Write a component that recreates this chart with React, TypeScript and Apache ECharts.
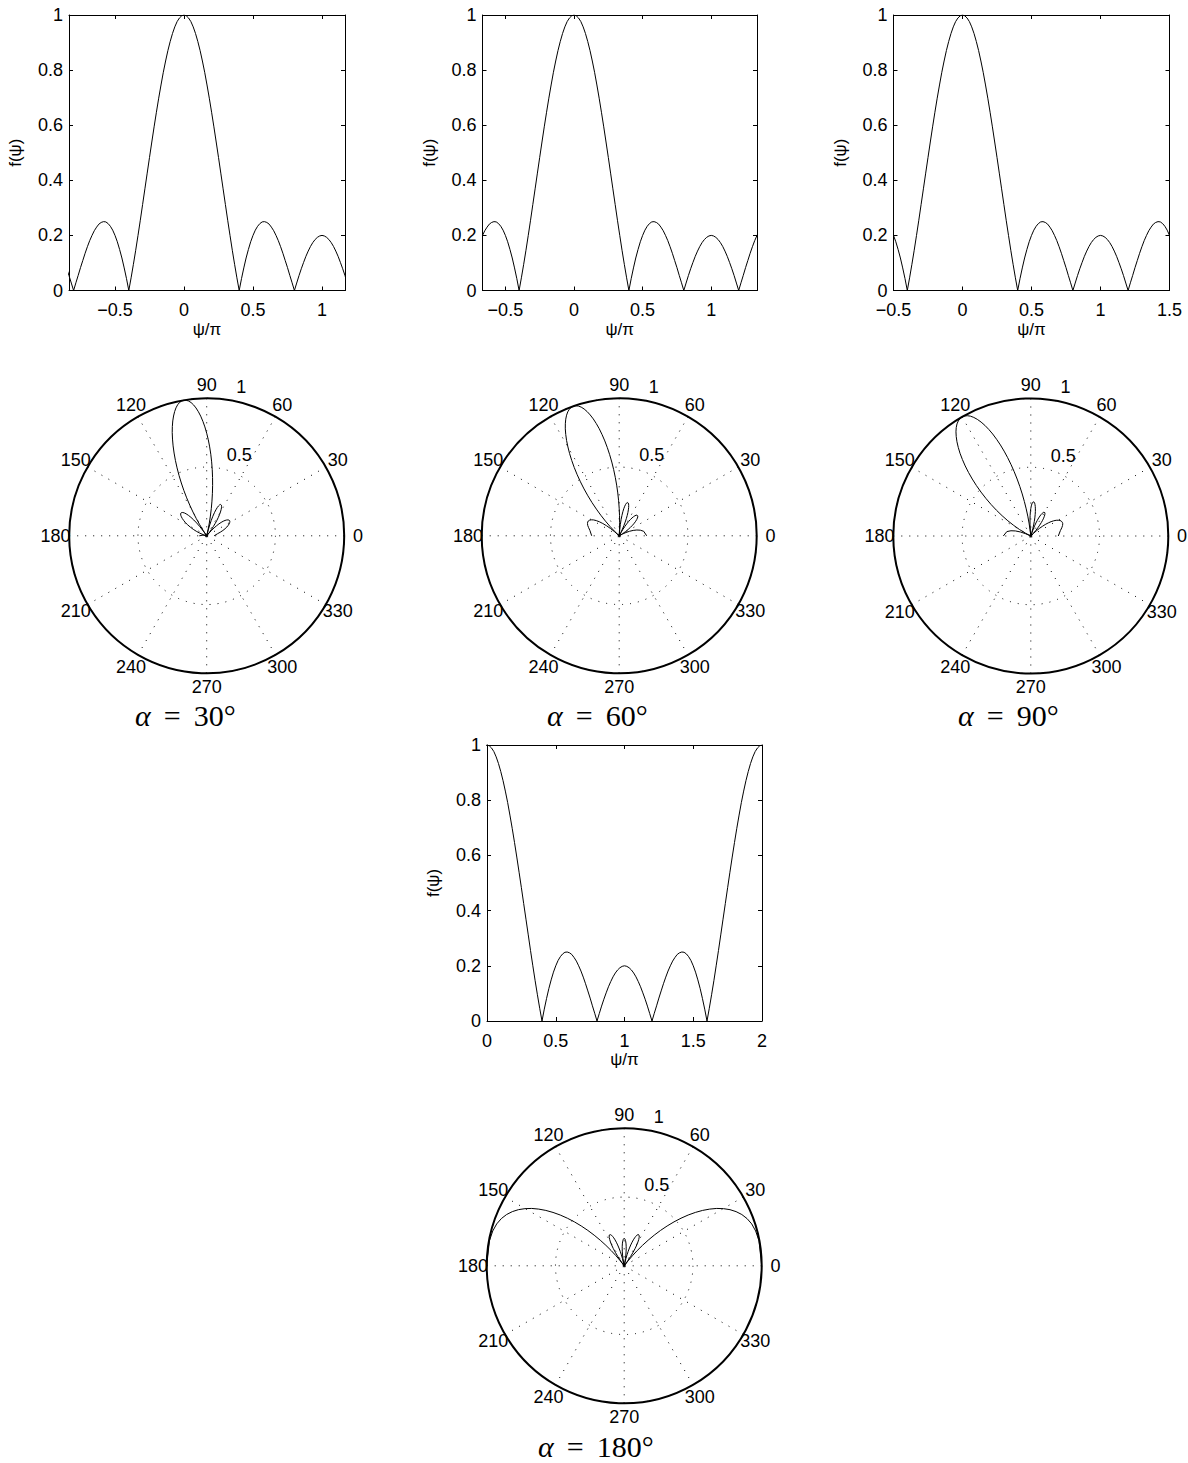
import React, { useEffect, useRef } from "react";
import * as echarts from "echarts";

// f(psi) samples, psi/pi from -1 to 2 in steps of 1/60
const PSI_START = -1;
const PSI_STEP = 1 / 60;
const F_NEG = [
  0.200, 0.198, 0.193, 0.185, 0.174, 0.160, 0.143, 0.124, 0.102, 0.079,
  0.054, 0.027, 0.000, 0.028, 0.055, 0.083, 0.109, 0.135, 0.159, 0.181,
  0.200, 0.217, 0.230, 0.241, 0.247, 0.250, 0.249, 0.243, 0.233, 0.219,
  0.200, 0.177, 0.149, 0.118, 0.082, 0.043, 0.000, 0.046, 0.095, 0.146,
  0.200, 0.255, 0.312, 0.369, 0.426, 0.483, 0.539, 0.594, 0.647, 0.698,
  0.746, 0.792, 0.833, 0.871, 0.904, 0.933, 0.957, 0.976, 0.989, 0.997,
  1.000,
];
const F_MID = [
  0.997, 0.989, 0.976, 0.957, 0.933, 0.904, 0.871, 0.833, 0.792, 0.746,
  0.698, 0.647, 0.594, 0.539, 0.483, 0.426, 0.369, 0.312, 0.255, 0.200,
  0.146, 0.095, 0.046, 0.000, 0.043, 0.082, 0.118, 0.149, 0.177, 0.200,
  0.219, 0.233, 0.243, 0.249, 0.250, 0.247, 0.241, 0.230, 0.217, 0.200,
  0.181, 0.159, 0.135, 0.109, 0.083, 0.055, 0.028, 0.000, 0.027, 0.054,
  0.079, 0.102, 0.124, 0.143, 0.160, 0.174, 0.185, 0.193, 0.198, 0.200,
];
const F_HIGH = [
  0.198, 0.193, 0.185, 0.174, 0.160, 0.143, 0.124, 0.102, 0.079, 0.054,
  0.027, 0.000, 0.028, 0.055, 0.083, 0.109, 0.135, 0.159, 0.181, 0.200,
  0.217, 0.230, 0.241, 0.247, 0.250, 0.249, 0.243, 0.233, 0.219, 0.200,
  0.177, 0.149, 0.118, 0.082, 0.043, 0.000, 0.046, 0.095, 0.146, 0.200,
  0.255, 0.312, 0.369, 0.426, 0.483, 0.539, 0.594, 0.647, 0.698, 0.746,
  0.792, 0.833, 0.871, 0.904, 0.933, 0.957, 0.976, 0.989, 0.997, 1.000,
];
const F_VALUES = [...F_NEG, ...F_MID, ...F_HIGH];

const ALPHA_DEG = [30, 60, 90, 180];
const ALPHA_LABELS = ["30°", "60°", "90°", "180°"];
const X_MIN = [-5 / 6, -2 / 3, -0.5, 0];
const X_MAX = [7 / 6, 4 / 3, 1.5, 2];
const X_TICK_STEP = 0.5;
const Y_TICK_STEP = 0.2;
const ANGLE_TICKS = [0, 30, 60, 90, 120, 150, 180, 210, 240, 270, 300, 330];
const RADIUS_TICKS = [0.5, 1];

const FONT = "'Liberation Sans', Arial, Helvetica, sans-serif";
const SERIF = "'Liberation Serif', 'Times New Roman', serif";

const GRIDS = [
  { left: 69, top: 15, width: 276, height: 275.5 },
  { left: 482.5, top: 15, width: 274.5, height: 275.5 },
  { left: 893.5, top: 15, width: 276, height: 275.5 },
  { left: 487, top: 745, width: 275, height: 276 },
];
const POLARS = [
  { cx: 206.7, cy: 535.8 },
  { cx: 619.2, cy: 535.8 },
  { cx: 1030.8, cy: 536 },
  { cx: 624.2, cy: 1265.8 },
];
const POLAR_R = 137.5;
const TITLES = [
  { x: 135, y: 715 },
  { x: 547, y: 715 },
  { x: 958, y: 715 },
  { x: 538, y: 1446 },
];

function fmtX(v: number): string {
  const r = Math.round(v / X_TICK_STEP) * X_TICK_STEP;
  if (Math.abs(v - r) > 1e-6) return "";
  return String(r).replace("-", "\u2212");
}

function buildOption() {
  const xAxis: any[] = [];
  const yAxis: any[] = [];
  const series: any[] = [];
  const polar: any[] = [];
  const angleAxis: any[] = [];
  const radiusAxis: any[] = [];
  const graphic: any[] = [];
  const black = { color: "#000", width: 1 };

  const cartData = F_VALUES.map((f, i) => [PSI_START + i * PSI_STEP, f]);

  GRIDS.forEach((g, i) => {
    const common = {
      gridIndex: i,
      type: "value",
      min: X_MIN[i],
      max: X_MAX[i],
      minInterval: X_TICK_STEP,
      maxInterval: X_TICK_STEP,
      splitLine: { show: false },
      axisLine: { show: true, onZero: false, lineStyle: black },
      axisTick: { show: true, inside: true, length: 4, lineStyle: black },
    };
    xAxis.push({
      ...common,
      position: "bottom",
      axisLabel: {
        show: true,
        fontSize: 18,
        fontFamily: FONT,
        color: "#000",
        margin: 10.5,
        showMinLabel: true,
        showMaxLabel: true,
        formatter: (v: number) => fmtX(v),
      },
      name: "ψ/π",
      nameLocation: "middle",
      nameGap: 30,
      nameTextStyle: { fontSize: 17, fontFamily: FONT, color: "#000" },
    });
    xAxis.push({ ...common, position: "top", axisLabel: { show: false } });
    const ycommon = {
      gridIndex: i,
      type: "value",
      min: 0,
      max: 1,
      interval: Y_TICK_STEP,
      splitLine: { show: false },
      axisLine: { show: true, onZero: false, lineStyle: black },
      axisTick: { show: true, inside: true, length: 4, lineStyle: black },
    };
    yAxis.push({
      ...ycommon,
      position: "left",
      axisLabel: { show: true, fontSize: 18, fontFamily: FONT, color: "#000", margin: 6 },
      name: "f(ψ)",
      nameLocation: "middle",
      nameGap: 45,
      nameRotate: 90,
      nameTextStyle: { fontSize: 17, fontFamily: FONT, color: "#000" },
    });
    yAxis.push({ ...ycommon, position: "right", axisLabel: { show: false } });
    series.push({
      type: "line",
      xAxisIndex: 2 * i,
      yAxisIndex: 2 * i,
      data: cartData,
      showSymbol: false,
      symbol: "none",
      clip: true,
      silent: true,
      lineStyle: { color: "#000", width: 1 },
    });
  });

  POLARS.forEach((p, i) => {
    polar.push({ center: [p.cx, p.cy], radius: POLAR_R });
    angleAxis.push({
      polarIndex: i,
      type: "value",
      min: 0,
      max: 360,
      interval: 30,
      startAngle: 0,
      clockwise: false,
      axisLine: { show: true, lineStyle: { color: "#000", width: 2 } },
      axisTick: { show: false },
      axisLabel: { show: false },
      splitLine: { show: true, lineStyle: { color: "#000", width: 1, type: [1, 7] } },
    });
    radiusAxis.push({
      polarIndex: i,
      type: "value",
      min: 0,
      max: 1,
      interval: 0.5,
      axisLine: { show: false },
      axisTick: { show: false },
      axisLabel: { show: false },
      splitLine: { show: true, lineStyle: { color: "#000", width: 1, type: [1, 7] } },
    });
    const a = ALPHA_DEG[i] / 180;
    const pdata: number[][] = [];
    F_VALUES.forEach((f, k) => {
      const x = PSI_START + k * PSI_STEP;
      const c = x - a;
      if (c < -1 - 1e-9 || c > 1 + 1e-9) return;
      const th = (Math.acos(Math.max(-1, Math.min(1, c))) * 180) / Math.PI;
      pdata.push([f, th]);
    });
    series.push({
      type: "line",
      coordinateSystem: "polar",
      polarIndex: i,
      data: pdata,
      showSymbol: false,
      symbol: "none",
      silent: true,
      lineStyle: { color: "#000", width: 1 },
    });

    // angle labels
    ANGLE_TICKS.forEach((t) => {
      const rad = (t * Math.PI) / 180;
      graphic.push({
        type: "text",
        silent: true,
        x: p.cx + 1.1 * POLAR_R * Math.cos(rad),
        y: p.cy - 1.1 * POLAR_R * Math.sin(rad),
        style: {
          text: String(t),
          fontSize: 18,
          fontFamily: FONT,
          fill: "#000",
          align: "center",
          verticalAlign: "middle",
          textAlign: "center",
          textVerticalAlign: "middle",
        },
      });
    });
    // radius labels (MATLAB style at 82 degrees)
    const c82 = Math.cos((82 * Math.PI) / 180);
    const s82 = Math.sin((82 * Math.PI) / 180);
    RADIUS_TICKS.forEach((v) => {
      const rr = (v + 0.025) * POLAR_R;
      graphic.push({
        type: "text",
        silent: true,
        x: p.cx + rr * c82 + 10,
        y: p.cy - rr * s82,
        style: {
          text: String(v),
          fontSize: 18,
          fontFamily: FONT,
          fill: "#000",
          align: "left",
          verticalAlign: "bottom",
          textAlign: "left",
          textVerticalAlign: "bottom",
        },
      });
    });

    // title
    const tt = TITLES[i];
    graphic.push({
      type: "text",
      silent: true,
      x: tt.x,
      y: tt.y,
      style: {
        text: `{a|α}{s| }{b|=}{s| }{b|${ALPHA_LABELS[i]}}`,
        align: "left",
        verticalAlign: "middle",
        textAlign: "left",
        textVerticalAlign: "middle",
        rich: {
          a: { fontFamily: SERIF, fontStyle: "italic", fontSize: 30, fill: "#000", color: "#000" },
          b: { fontFamily: SERIF, fontSize: 30, fill: "#000", color: "#000" },
          s: { fontFamily: SERIF, fontSize: 30, width: 13 },
        },
      },
    });
  });

  return {
    animation: false,
    backgroundColor: "#fff",
    grid: GRIDS.map((g) => ({ ...g, containLabel: false, show: false })),
    xAxis,
    yAxis,
    polar,
    angleAxis,
    radiusAxis,
    series,
    graphic: { elements: graphic },
  };
}

export default function App() {
  const ref = useRef<HTMLDivElement>(null);
  useEffect(() => {
    if (!ref.current) return;
    const chart = echarts.init(ref.current, undefined, { renderer: "svg" });
    chart.setOption(buildOption() as any);
    return () => chart.dispose();
  }, []);
  return (
    <div
      ref={ref}
      style={{ position: "absolute", left: 0, top: 0, width: 1188, height: 1463, background: "#fff" }}
    />
  );
}
